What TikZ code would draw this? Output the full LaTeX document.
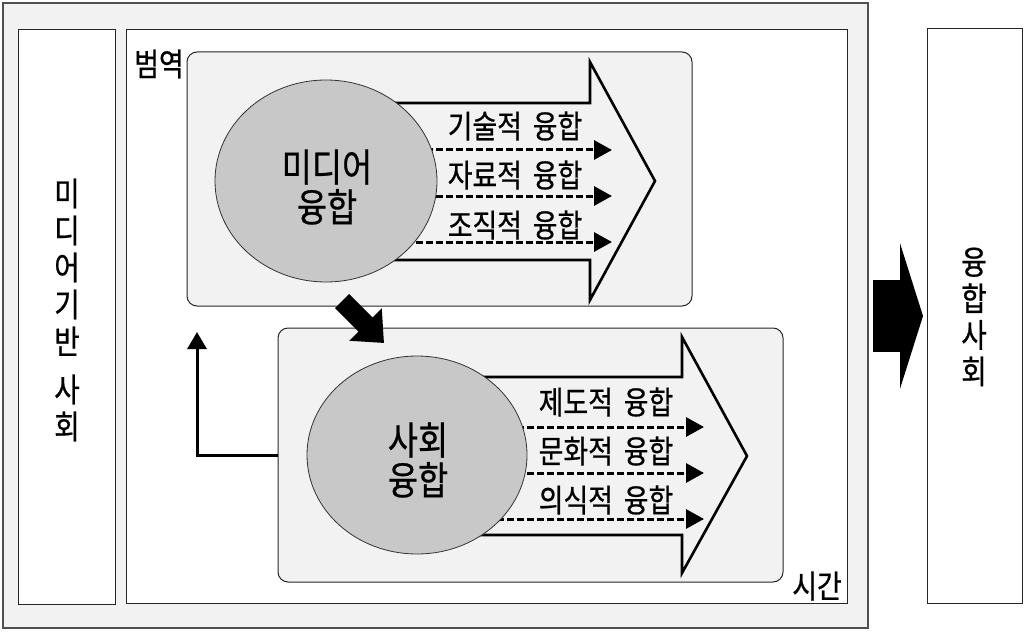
\documentclass[tikz,border=0pt]{standalone}
\usepackage{fontspec}
\setmainfont{Noto Sans CJK KR}[FakeStretch=0.84,WordSpace=1.8,FakeBold=0.6]
\usetikzlibrary{arrows.meta,shapes.geometric}
\definecolor{bglight}{RGB}{242,242,242}
\definecolor{ellfill}{RGB}{200,200,200}
\definecolor{framegray}{RGB}{80,80,80}
\begin{document}
\begin{tikzpicture}[x=1pt,y=-1pt,
  panel/.style={draw=framegray,line width=1.5pt,fill=bglight,inner sep=0pt,outer sep=0pt},
  whitebox/.style={draw=black!85,line width=1pt,fill=white,inner sep=0pt,outer sep=0pt},
  roundbox/.style={draw=black!85,line width=1pt,fill=bglight,rounded corners=10pt,inner sep=0pt,outer sep=0pt},
  hollow/.style={draw=black,line width=2.6pt,fill=bglight,line join=miter},
  dasharrow/.style={line width=3pt,dash pattern=on 6.5pt off 3.5pt,-{Triangle[length=18pt,width=19pt]}},
  blob/.style={ellipse,draw=black!80,line width=0.8pt,fill=ellfill,inner sep=0pt},
  lbl/.style={inner sep=0pt,font=\fontsize{32}{34}\selectfont},
  big/.style={inner sep=0pt,align=center,font=\fontsize{39}{40}\selectfont},
  vertl/.style={inner sep=0pt,align=center,font=\fontsize{33}{37}\selectfont},
  vertr/.style={inner sep=0pt,align=center,font=\fontsize{33}{36.5}\selectfont}
]
\useasboundingbox (0,0) rectangle (1024,631);
\fill[white] (0,0) rectangle (1024,631);

% frames
\node[panel,anchor=north west,minimum width=865pt,minimum height=625pt] (outer) at (3,3) {};
\node[whitebox,anchor=north west,minimum width=97pt,minimum height=574pt] (leftcol) at (18,30) {};
\node[whitebox,anchor=north west,minimum width=721pt,minimum height=573pt] (inner) at (126,30) {};
\node[whitebox,anchor=north west,minimum width=95pt,minimum height=574pt] (rightcol) at (927,29) {};

% rounded panels
\node[roundbox,anchor=north west,minimum width=505pt,minimum height=254pt] (upper) at (187,52) {};
\node[roundbox,anchor=north west,minimum width=505pt,minimum height=254pt] (lower) at (278,328) {};

% hollow arrows
\draw[hollow] (330,103) -- (590,103) -- (590,62) -- (655,181) -- (590,300) -- (590,260) -- (330,260) -- cycle;
\draw[hollow] (420,377) -- (682,377) -- (682,337) -- (747,456) -- (682,573) -- (682,535) -- (420,535) -- cycle;

% dashed arrows
\coordinate (a1s) at (326,150); \coordinate (a1e) at (612,150);
\coordinate (a2s) at (326,196); \coordinate (a2e) at (612,196);
\coordinate (a3s) at (326,242); \coordinate (a3e) at (612,242);
\coordinate (b1s) at (417,427); \coordinate (b1e) at (704,427);
\coordinate (b2s) at (417,473); \coordinate (b2e) at (704,473);
\coordinate (b3s) at (417,519); \coordinate (b3e) at (704,519);
\draw[dasharrow] (a1s) -- (a1e);
\draw[dasharrow] (a2s) -- (a2e);
\draw[dasharrow] (a3s) -- (a3e);
\draw[dasharrow] (b1s) -- (b1e);
\draw[dasharrow] (b2s) -- (b2e);
\draw[dasharrow] (b3s) -- (b3e);

% ellipses
\node[blob,minimum width=222pt,minimum height=202pt] (e1) at (326,181) {};
\node[blob,minimum width=220pt,minimum height=198pt] (e2) at (417,455) {};
\node[big] (e1t) at (327,187) {미디어\\융합};
\node[big] (e2t) at (418,460) {사회\\융합};

% labels
\node[lbl] (l1) at (515,126) {기술적 융합};
\node[lbl] (l2) at (515,175) {자료적 융합};
\node[lbl] (l3) at (515,225) {조직적 융합};
\node[lbl] (l4) at (606,402) {제도적 융합};
\node[lbl] (l5) at (606,451) {문화적 융합};
\node[lbl] (l6) at (606,500) {의식적 융합};
\node[lbl] (beom) at (159,64) {범역};
\node[lbl] (sigan) at (817,586) {시간};

\node[vertl] (lt) at (67,310) {미\\디\\어\\기\\반\\[11pt]사\\회};
\node[vertr] (rt) at (974,317) {융\\합\\사\\회};

% diagonal arrow between panels
\coordinate (da) at (342,301); \coordinate (db) at (384,343);
\draw[line width=20pt,-{Triangle[length=26pt,width=44pt]}] (da) -- (db);

% feedback arrow
\coordinate (fb) at (197,332);
\draw[line width=3pt,-{Triangle[length=17pt,width=19pt]}] (lower.west) -| (fb);

% big arrow to right column
\coordinate (ra) at (873,316); \coordinate (rb) at (923,316);
\draw[line width=72pt,-{Triangle[length=23pt,width=145pt]}] (ra) -- (rb);
\end{tikzpicture}
\end{document}
